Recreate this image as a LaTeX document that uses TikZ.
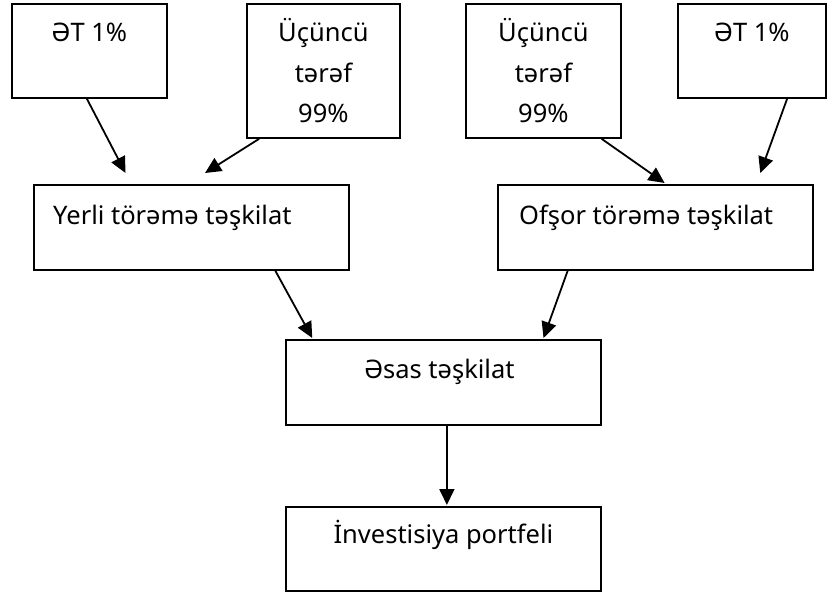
\documentclass[tikz,border=0pt]{standalone}
\usepackage{fontspec}
\setmainfont{Noto Sans}
\usetikzlibrary{calc,arrows.meta}
\begin{document}
\begin{tikzpicture}[x=1pt,y=-1pt,
  box/.style={draw,line width=1.8pt,inner sep=0pt,anchor=north west,fill=none},
  txt/.style={inner sep=0pt,font=\fontsize{25.5}{30}\selectfont},
  arr/.style={line width=1.8pt,-{Triangle[length=16pt,width=15pt]}}]
\useasboundingbox (0,0) rectangle (827,593);
% boxes
\node[box,minimum width=155pt,minimum height=94pt] (b1) at (11,3) {};
\node[box,minimum width=153pt,minimum height=134pt] (b2) at (246,3) {};
\node[box,minimum width=155pt,minimum height=134pt] (b3) at (465,3) {};
\node[box,minimum width=148pt,minimum height=94pt] (b4) at (677,3) {};
\node[box,minimum width=315pt,minimum height=85pt] (b5) at (33,184) {};
\node[box,minimum width=315pt,minimum height=85pt] (b6) at (497,184) {};
\node[box,minimum width=315pt,minimum height=85pt] (b7) at (285,339) {};
\node[box,minimum width=315pt,minimum height=84pt] (b8) at (285,506) {};
% texts
\node[txt,anchor=base] (t1) at ($(b1.north)+(0,39)$) {ƏT 1\%};
\node[txt,anchor=base] (t2a) at ($(b2.north)+(0,39)$) {Üçüncü};
\node[txt,anchor=base] (t2b) at ($(b2.north)+(0,80)$) {tərəf};
\node[txt,anchor=base] (t2c) at ($(b2.north)+(0,120)$) {99\%};
\node[txt,anchor=base] (t3a) at ($(b3.north)+(0,39)$) {Üçüncü};
\node[txt,anchor=base] (t3b) at ($(b3.north)+(0,80)$) {tərəf};
\node[txt,anchor=base] (t3c) at ($(b3.north)+(0,120)$) {99\%};
\node[txt,anchor=base] (t4) at ($(b4.north)+(0,39)$) {ƏT 1\%};
\node[txt,anchor=base west] (t5) at ($(b5.north west)+(20,41)$) {Yerli törəmə təşkilat};
\node[txt,anchor=base west] (t6) at ($(b6.north west)+(22,41)$) {Ofşor törəmə təşkilat};
\node[txt,anchor=base] (t7) at ($(b7.north)+(-4,39)$) {Əsas təşkilat};
\node[txt,anchor=base] (t8) at ($(b8.north)+(0,37)$) {İnvestisiya portfeli};
% arrows
\draw[arr] ($(b1.south west)!0.484!(b1.south east)$) -- ($(b5.north west)!0.292!(b5.north east)+(0,-11)$);
\draw[arr] ($(b2.south west)!0.085!(b2.south east)$) -- ($(b5.north west)!0.543!(b5.north east)+(0,-11)$);
\draw[arr] ($(b3.south west)!0.871!(b3.south east)$) -- ($(b6.north west)!0.529!(b6.north east)+(0,-1)$);
\draw[arr] ($(b4.south west)!0.735!(b4.south east)$) -- ($(b6.north west)!0.831!(b6.north east)+(0,-11)$);
\draw[arr] ($(b5.south west)!0.765!(b5.south east)$) -- ($(b7.north west)!0.086!(b7.north east)+(0,-1)$);
\draw[arr] ($(b6.south west)!0.223!(b6.south east)$) -- ($(b7.north west)!0.816!(b7.north east)+(0,-1)$);
\draw[arr] ($(b7.south west)!0.511!(b7.south east)$) -- ($(b8.north west)!0.511!(b8.north east)+(0,-1)$);
\end{tikzpicture}
\end{document}
